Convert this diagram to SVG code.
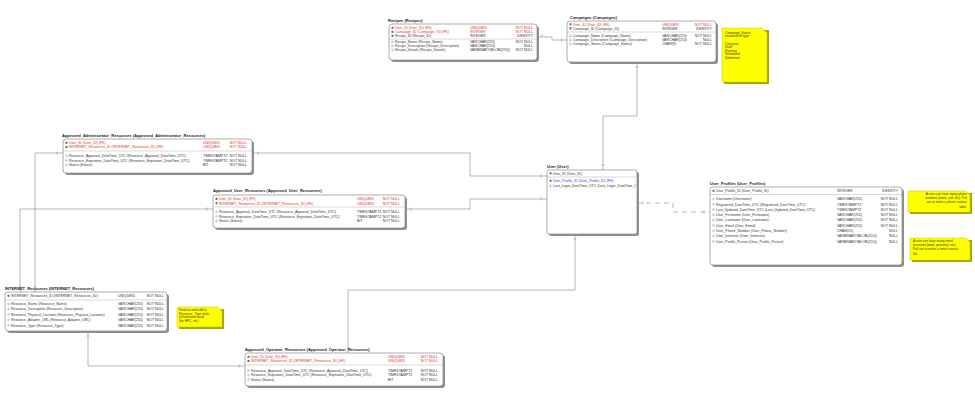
<svg xmlns="http://www.w3.org/2000/svg" width="975" height="400" viewBox="0 0 975 400">
<style>
.t{font-family:"Liberation Sans",Arial,sans-serif;font-size:3.5px;fill:#333}
.h{font-size:4px;font-weight:bold;fill:#222}
.red{fill:#e0301e}
.blue{fill:#2a3fd0}
.n{text-anchor:end}
.box{fill:#fff;stroke:#8a8a8a;stroke-width:0.7}
.sh{fill:#8f8f8f}
.sep{stroke:#b0b0b0;stroke-width:0.5}
.c{fill:none;stroke:#9a9a9a;stroke-width:0.7}
.d{stroke-dasharray:5,4}
.tk{stroke:#8a8a8a;stroke-width:0.6}
.note{fill:#ffff00;stroke:#b5b500;stroke-width:0.4}
.nsh{fill:#a8a800}
.nt{font-family:"Liberation Sans",Arial,sans-serif;font-size:3.2px;fill:#333}
.k{fill:#666}
.ic{fill:#dfe8ff;stroke:#6b8fd4;stroke-width:0.4}
</style>
<defs>
<clipPath id="cu"><rect x="547" y="168" width="89" height="66"/></clipPath>
</defs>
<rect width="975" height="400" fill="#fff"/>

<g id="connectors">
<path class="c" d="M537,37 H552 V40 H567"/>
<path class="c" d="M637,62 V116 H603 V170"/>
<path class="c" d="M252,153 H470 V176 H547"/>
<path class="c" d="M405,209 H470 V199 H547"/>
<path class="c" d="M63,153 H35 V292"/>
<path class="c" d="M213,209 H20 V292"/>
<path class="c" d="M88,331 V366 H245"/>
<path class="c" d="M575,234 V290 H348 V353"/>
<path class="c d" d="M637,203 H673 V212 H710"/>
<g class="tk">
<line x1="542" y1="37" x2="542" y2="34"/><line x1="562" y1="41.5" x2="562" y2="38.5"/>
<line x1="635.5" y1="67" x2="638.5" y2="67"/><line x1="601.5" y1="165" x2="604.5" y2="165"/>
<line x1="258" y1="151.5" x2="258" y2="154.5"/><line x1="541" y1="174.5" x2="541" y2="177.5"/>
<line x1="411" y1="207.5" x2="411" y2="210.5"/><line x1="541" y1="197.5" x2="541" y2="200.5"/>
<line x1="57" y1="151.5" x2="57" y2="154.5"/><line x1="33.5" y1="287" x2="36.5" y2="287"/>
<line x1="207" y1="207.5" x2="207" y2="210.5"/><line x1="18.5" y1="287" x2="21.5" y2="287"/>
<line x1="86.5" y1="336" x2="89.5" y2="336"/><line x1="239" y1="364.5" x2="239" y2="367.5"/>
<line x1="573.5" y1="239" x2="576.5" y2="239"/><line x1="346.5" y1="348" x2="349.5" y2="348"/>
<line x1="643" y1="201.5" x2="643" y2="204.5"/><line x1="704" y1="210.5" x2="704" y2="213.5"/>
</g>
</g>

<g id="Recipes">
<rect class="sh" x="391" y="26" width="148" height="36" rx="3"/>
<rect class="box" x="389" y="24" width="148" height="36" rx="3"/>
<text class="t h" x="388" y="22">Recipes (Recipes)</text>
<rect class="k" x="391.5" y="26.8" width="2" height="2"/><text class="t red" x="395" y="29.2">User_ID (User_ID) (FK)</text><text class="t red" x="470" y="29.2">UNIQUEID</text><text class="t red n" x="533" y="29.2">NOT NULL</text>
<rect class="k" x="391.5" y="30.8" width="2" height="2"/><text class="t red" x="395" y="33.2">Campaign_ID (Campaign_ID) (FK)</text><text class="t red" x="470" y="33.2">INTEGER</text><text class="t red n" x="533" y="33.2">NOT NULL</text>
<rect class="k" x="391.5" y="34.8" width="2" height="2"/><text class="t" x="395" y="37.2">Recipe_ID (Recipe_ID)</text><text class="t" x="470" y="37.2">INTEGER</text><text class="t n" x="533" y="37.2">IDENTITY</text>
<line class="sep" x1="389" y1="39" x2="537" y2="39"/>
<circle class="ic" cx="392.5" cy="42" r="0.9"/><text class="t" x="395" y="43.2">Recipe_Name (Recipe_Name)</text><text class="t" x="470" y="43.2">VARCHAR(255)</text><text class="t n" x="533" y="43.2">NOT NULL</text>
<circle class="ic" cx="392.5" cy="46" r="0.9"/><text class="t" x="395" y="47.2">Recipe_Description (Recipe_Description)</text><text class="t" x="470" y="47.2">VARCHAR(255)</text><text class="t n" x="533" y="47.2">NULL</text>
<circle class="ic" cx="392.5" cy="50" r="0.9"/><text class="t" x="395" y="51.2">Recipe_Details (Recipe_Details)</text><text class="t" x="470" y="51.2">VARBINARY(BLOB(255))</text><text class="t n" x="533" y="51.2">NOT NULL</text>
</g>

<g id="Campaigns">
<rect class="sh" x="569" y="23" width="149" height="41" rx="3"/>
<rect class="box" x="567" y="21" width="149" height="41" rx="3"/>
<text class="t h" x="570" y="19">Campaigns (Campaigns)</text>
<rect class="k" x="569.5" y="23.3" width="2" height="2"/><text class="t red" x="573" y="25.7">User_ID (User_ID) (FK)</text><text class="t red" x="662" y="25.7">UNIQUEID</text><text class="t red n" x="712" y="25.7">NOT NULL</text>
<rect class="k" x="569.5" y="27.3" width="2" height="2"/><text class="t" x="573" y="29.7">Campaign_ID (Campaign_ID)</text><text class="t" x="662" y="29.7">INTEGER</text><text class="t n" x="712" y="29.7">IDENTITY</text>
<line class="sep" x1="567" y1="32" x2="716" y2="32"/>
<circle class="ic" cx="570.5" cy="36" r="0.9"/><text class="t" x="573" y="37.2">Campaign_Name (Campaign_Name)</text><text class="t" x="662" y="37.2">VARCHAR(255)</text><text class="t n" x="712" y="37.2">NOT NULL</text>
<circle class="ic" cx="570.5" cy="40" r="0.9"/><text class="t" x="573" y="41.2">Campaign_Description (Campaign_Description)</text><text class="t" x="662" y="41.2">VARCHAR(255)</text><text class="t n" x="712" y="41.2">NULL</text>
<circle class="ic" cx="570.5" cy="44" r="0.9"/><text class="t" x="573" y="45.2">Campaign_Status (Campaign_Status)</text><text class="t" x="662" y="45.2">CHAR(9)</text><text class="t n" x="712" y="45.2">NOT NULL</text>
</g>

<g id="note_campaign_status">
<path class="nsh" d="M724,30 H769 V84 H724 Z"/>
<path class="note" d="M722,28 H762 L767,33 V82 H722 Z"/>
<text class="nt" x="725" y="33.5">Campaign_Status</text>
<text class="nt" x="725" y="37">enumerated type:</text>
<text class="nt" x="725" y="44.5">Complete</text>
<text class="nt" x="725" y="48">Draft</text>
<text class="nt" x="725" y="51.5">Running</text>
<text class="nt" x="725" y="55">Scheduled</text>
<text class="nt" x="725" y="58.5">Submitted</text>
</g>

<g id="Approved_Administrator_Resources">
<rect class="sh" x="65" y="141" width="189" height="34" rx="3"/>
<rect class="box" x="63" y="139" width="189" height="34" rx="3"/>
<text class="t h" x="62" y="136.5">Approved_Administrator_Resources (Approved_Administrator_Resources)</text>
<rect class="k" x="65.5" y="141.8" width="2" height="2"/><text class="t red" x="69" y="144.2">User_ID (User_ID) (FK)</text><text class="t red" x="203" y="144.2">UNIQUEID</text><text class="t red n" x="247" y="144.2">NOT NULL</text>
<rect class="k" x="65.5" y="146" width="2" height="2"/><text class="t red" x="69" y="148.4">INTERNET_Resources_ID (INTERNET_Resources_ID) (FK)</text><text class="t red" x="203" y="148.4">UNIQUEID</text><text class="t red n" x="247" y="148.4">NOT NULL</text>
<line class="sep" x1="63" y1="151" x2="252" y2="151"/>
<circle class="ic" cx="66.5" cy="156" r="0.9"/><text class="t" x="69" y="157.2">Resource_Approval_DateTime_UTC (Resource_Approval_DateTime_UTC)</text><text class="t" x="203" y="157.2">TIMESTAMPTZ</text><text class="t n" x="247" y="157.2">NOT NULL</text>
<circle class="ic" cx="66.5" cy="160.5" r="0.9"/><text class="t" x="69" y="161.7">Resource_Expiration_DateTime_UTC (Resource_Expiration_DateTime_UTC)</text><text class="t" x="203" y="161.7">TIMESTAMPTZ</text><text class="t n" x="247" y="161.7">NOT NULL</text>
<circle class="ic" cx="66.5" cy="165" r="0.9"/><text class="t" x="69" y="166.2">Status (Status)</text><text class="t" x="203" y="166.2">BIT</text><text class="t n" x="247" y="166.2">NOT NULL</text>
</g>

<g id="Approved_User_Resources">
<rect class="sh" x="215" y="197" width="192" height="33" rx="3"/>
<rect class="box" x="213" y="195" width="192" height="33" rx="3"/>
<text class="t h" x="213" y="192">Approved_User_Resources (Approved_User_Resources)</text>
<rect class="k" x="215.5" y="197.8" width="2" height="2"/><text class="t red" x="219" y="200.2">User_ID (User_ID) (FK)</text><text class="t red" x="357" y="200.2">UNIQUEID</text><text class="t red n" x="400" y="200.2">NOT NULL</text>
<rect class="k" x="215.5" y="202.2" width="2" height="2"/><text class="t red" x="219" y="204.6">INTERNET_Resources_ID (INTERNET_Resources_ID) (FK)</text><text class="t red" x="357" y="204.6">UNIQUEID</text><text class="t red n" x="400" y="204.6">NOT NULL</text>
<line class="sep" x1="213" y1="207" x2="405" y2="207"/>
<circle class="ic" cx="216.5" cy="212" r="0.9"/><text class="t" x="219" y="213.2">Resource_Approval_DateTime_UTC (Resource_Approval_DateTime_UTC)</text><text class="t" x="357" y="213.2">TIMESTAMPTZ</text><text class="t n" x="400" y="213.2">NOT NULL</text>
<circle class="ic" cx="216.5" cy="216.5" r="0.9"/><text class="t" x="219" y="217.7">Resource_Expiration_DateTime_UTC (Resource_Expiration_DateTime_UTC)</text><text class="t" x="357" y="217.7">TIMESTAMPTZ</text><text class="t n" x="400" y="217.7">NOT NULL</text>
<circle class="ic" cx="216.5" cy="221" r="0.9"/><text class="t" x="219" y="222.2">Status (Status)</text><text class="t" x="357" y="222.2">BIT</text><text class="t n" x="400" y="222.2">NOT NULL</text>
</g>

<g id="User">
<rect class="sh" x="549" y="172" width="90" height="64" rx="2"/>
<rect class="box" x="547" y="170" width="90" height="64" rx="2"/>
<text class="t h" x="547" y="167.5">User (User)</text>
<rect class="k" x="549.5" y="172.3" width="2" height="2"/><text class="t" x="553" y="174.7">User_ID (User_ID)</text>
<line class="sep" x1="547" y1="177" x2="637" y2="177"/>
<g clip-path="url(#cu)">
<rect class="k" x="549.5" y="179.8" width="2" height="2"/><text class="t blue" x="553" y="182.2">User_Profile_ID (User_Profile_ID) (FK)</text>
<circle class="ic" cx="550.5" cy="186" r="0.9"/><text class="t" x="553" y="187.2">Last_Login_DateTime_UTC (Last_Login_DateTime_UTC)</text>
</g>
</g>

<g id="User_Profiles">
<rect class="sh" x="712" y="189" width="192" height="78" rx="3"/>
<rect class="box" x="710" y="187" width="192" height="78" rx="3"/>
<text class="t h" x="710" y="185">User_Profiles (User_Profiles)</text>
<rect class="k" x="712.5" y="189.8" width="2" height="2"/><text class="t" x="716" y="192.2">User_Profile_ID (User_Profile_ID)</text><text class="t" x="837" y="192.2">INTEGER</text><text class="t n" x="898" y="192.2">IDENTITY</text>
<line class="sep" x1="710" y1="194.5" x2="902" y2="194.5"/>
<circle class="ic" cx="713.5" cy="199" r="0.9"/><text class="t" x="716" y="200.2">Username (Username)</text><text class="t" x="837" y="200.2">VARCHAR(255)</text><text class="t n" x="898" y="200.2">NOT NULL</text>
<circle class="ic" cx="713.5" cy="204.3" r="0.9"/><text class="t" x="716" y="205.5">Registered_DateTime_UTC (Registered_DateTime_UTC)</text><text class="t" x="837" y="205.5">TIMESTAMPTZ</text><text class="t n" x="898" y="205.5">NOT NULL</text>
<circle class="ic" cx="713.5" cy="209.6" r="0.9"/><text class="t" x="716" y="210.8">Last_Updated_DateTime_UTC (Last_Updated_DateTime_UTC)</text><text class="t" x="837" y="210.8">TIMESTAMPTZ</text><text class="t n" x="898" y="210.8">NOT NULL</text>
<circle class="ic" cx="713.5" cy="214.9" r="0.9"/><text class="t" x="716" y="216.1">User_Firstname (User_Firstname)</text><text class="t" x="837" y="216.1">VARCHAR(255)</text><text class="t n" x="898" y="216.1">NOT NULL</text>
<circle class="ic" cx="713.5" cy="220.2" r="0.9"/><text class="t" x="716" y="221.4">User_Lastname (User_Lastname)</text><text class="t" x="837" y="221.4">VARCHAR(255)</text><text class="t n" x="898" y="221.4">NOT NULL</text>
<circle class="ic" cx="713.5" cy="225.5" r="0.9"/><text class="t" x="716" y="226.7">User_Email (User_Email)</text><text class="t" x="837" y="226.7">VARCHAR(255)</text><text class="t n" x="898" y="226.7">NOT NULL</text>
<circle class="ic" cx="713.5" cy="230.8" r="0.9"/><text class="t" x="716" y="232">User_Phone_Number (User_Phone_Number)</text><text class="t" x="837" y="232">CHAR(25)</text><text class="t n" x="898" y="232">NULL</text>
<circle class="ic" cx="713.5" cy="236.1" r="0.9"/><text class="t" x="716" y="237.3">User_Interests (User_Interests)</text><text class="t" x="837" y="237.3">VARBINARY(BLOB(255))</text><text class="t n" x="898" y="237.3">NULL</text>
<circle class="ic" cx="713.5" cy="241.4" r="0.9"/><text class="t" x="716" y="242.6">User_Profile_Picture (User_Profile_Picture)</text><text class="t" x="837" y="242.6">VARBINARY(BLOB(255))</text><text class="t n" x="898" y="242.6">NULL</text>
</g>

<g id="note_phone">
<path class="nsh" d="M910,193 H972 V214 H910 Z"/>
<path class="note" d="M908,191 H966 L970,195 V212 H908 Z"/>
<text class="nt n" x="967" y="195">A user can have many phone</text>
<text class="nt n" x="967" y="199">numbers (work, cell, etc).  Pull</text>
<text class="nt n" x="967" y="203">out to make a phone contact</text>
<text class="nt n" x="967" y="207.5">table.</text>
</g>

<g id="note_email">
<path class="nsh" d="M912,240 H972 V262 H912 Z"/>
<path class="note" d="M910,238 H966 L970,242 V260 H910 Z"/>
<text class="nt" x="913" y="242">A user can have many email</text>
<text class="nt" x="913" y="246">accounts (work, personal, etc).</text>
<text class="nt" x="913" y="250">Pull out to make a email contact</text>
<text class="nt" x="913" y="254.5">list.</text>
</g>

<g id="INTERNET_Resources">
<rect class="sh" x="7" y="294" width="162" height="39" rx="3"/>
<rect class="box" x="5" y="292" width="162" height="39" rx="3"/>
<text class="t h" x="5" y="289.5">INTERNET_Resources (INTERNET_Resources)</text>
<rect class="k" x="7.5" y="294.8" width="2" height="2"/><text class="t" x="11" y="297.2">INTERNET_Resources_ID (INTERNET_Resources_ID)</text><text class="t" x="118" y="297.2">UNIQUEID</text><text class="t n" x="164" y="297.2">NOT NULL</text>
<line class="sep" x1="5" y1="300" x2="167" y2="300"/>
<circle class="ic" cx="8.5" cy="303.8" r="0.9"/><text class="t" x="11" y="305">Resource_Name (Resource_Name)</text><text class="t" x="118" y="305">VARCHAR(255)</text><text class="t n" x="164" y="305">NOT NULL</text>
<circle class="ic" cx="8.5" cy="309" r="0.9"/><text class="t" x="11" y="310.2">Resource_Description (Resource_Description)</text><text class="t" x="118" y="310.2">VARCHAR(255)</text><text class="t n" x="164" y="310.2">NOT NULL</text>
<circle class="ic" cx="8.5" cy="314.3" r="0.9"/><text class="t" x="11" y="315.5">Resource_Physical_Location (Resource_Physical_Location)</text><text class="t" x="118" y="315.5">VARCHAR(255)</text><text class="t n" x="164" y="315.5">NOT NULL</text>
<circle class="ic" cx="8.5" cy="319.8" r="0.9"/><text class="t" x="11" y="321">Resource_Adapter_URL (Resource_Adapter_URL)</text><text class="t" x="118" y="321">VARCHAR(255)</text><text class="t n" x="164" y="321">NOT NULL</text>
<circle class="ic" cx="8.5" cy="325.3" r="0.9"/><text class="t" x="11" y="326.5">Resource_Type (Resource_Type)</text><text class="t" x="118" y="326.5">VARCHAR(255)</text><text class="t n" x="164" y="326.5">NOT NULL</text>
</g>

<g id="note_resource_type">
<path class="nsh" d="M179,309 H224 V329 H179 Z"/>
<path class="note" d="M177,307 H218 L222,311 V327 H177 Z"/>
<text class="nt" x="179" y="311">Find out and add in</text>
<text class="nt" x="179" y="314.5">Resource_Type table</text>
<text class="nt" x="179" y="318">(information need</text>
<text class="nt" x="179" y="321.5">like HPC, etc)</text>
</g>

<g id="Approved_Operator_Resources">
<rect class="sh" x="247" y="355" width="198" height="33" rx="3"/>
<rect class="box" x="245" y="353" width="198" height="33" rx="3"/>
<text class="t h" x="245" y="350.5">Approved_Operator_Resources (Approved_Operator_Resources)</text>
<rect class="k" x="247.5" y="355.8" width="2" height="2"/><text class="t red" x="251" y="358.2">User_ID (User_ID) (FK)</text><text class="t red" x="388" y="358.2">UNIQUEID</text><text class="t red n" x="438" y="358.2">NOT NULL</text>
<rect class="k" x="247.5" y="360" width="2" height="2"/><text class="t red" x="251" y="362.4">INTERNET_Resources_ID (INTERNET_Resources_ID) (FK)</text><text class="t red" x="388" y="362.4">UNIQUEID</text><text class="t red n" x="438" y="362.4">NOT NULL</text>
<line class="sep" x1="245" y1="365" x2="443" y2="365"/>
<circle class="ic" cx="248.5" cy="370.5" r="0.9"/><text class="t" x="251" y="371.7">Resource_Approval_DateTime_UTC (Resource_Approval_DateTime_UTC)</text><text class="t" x="388" y="371.7">TIMESTAMPTZ</text><text class="t n" x="438" y="371.7">NOT NULL</text>
<circle class="ic" cx="248.5" cy="375" r="0.9"/><text class="t" x="251" y="376.2">Resource_Expiration_DateTime_UTC (Resource_Expiration_DateTime_UTC)</text><text class="t" x="388" y="376.2">TIMESTAMPTZ</text><text class="t n" x="438" y="376.2">NOT NULL</text>
<circle class="ic" cx="248.5" cy="379.5" r="0.9"/><text class="t" x="251" y="380.7">Status (Status)</text><text class="t" x="388" y="380.7">BIT</text><text class="t n" x="438" y="380.7">NOT NULL</text>
</g>
</svg>
